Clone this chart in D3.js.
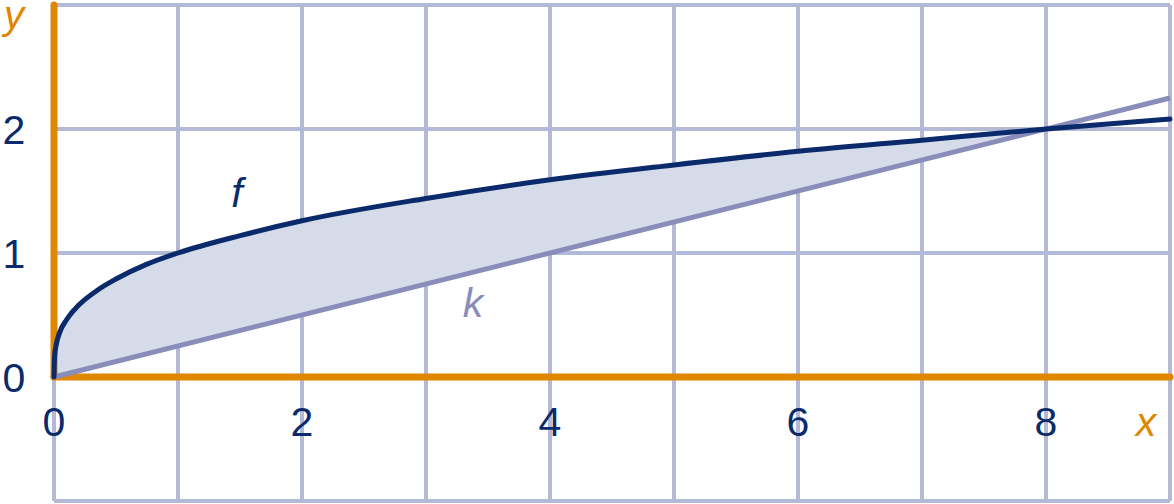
<!DOCTYPE html>
<html>
<head>
<meta charset="utf-8">
<script src="https://d3js.org/d3.v7.min.js"></script>
<style>
  body { margin: 0; background: #fff; }
  svg text { font-family: "Liberation Sans", Arial, sans-serif; }
</style>
</head>
<body>
<svg width="1174" height="504"></svg>
<script>
// values
var fX = [0, 0.005, 0.02, 0.05, 0.1, 0.2, 0.35, 0.5, 0.75, 1, 1.5, 2, 3, 4, 5, 6, 7, 8, 9];
var fY = [0, 0.17, 0.27, 0.37, 0.46, 0.58, 0.70, 0.79, 0.91, 1, 1.14, 1.26, 1.44, 1.59, 1.71, 1.82, 1.91, 2, 2.08];
var kX = [0, 9];
var kY = [0, 2.25];
var xTicks = [0, 2, 4, 6, 8];
var yTicks = [0, 1, 2];
var xGrid = [0, 1, 2, 3, 4, 5, 6, 7, 8, 9];
var yGrid = [-1, 0, 1, 2, 3];

var svg = d3.select("svg");
var x = d3.scaleLinear().domain([0, 9]).range([54, 1170]);
var y = d3.scaleLinear().domain([-1, 3]).range([501, 5]);

var gridColor = "#b4b9d6", orange = "#e08700", navy = "#0b2a6c", lilac = "#8a8db9";

// grid
svg.append("g").selectAll("line.v").data(xGrid).enter().append("line")
    .attr("x1", function(d) { return x(d); })
    .attr("x2", function(d) { return x(d); })
    .attr("y1", y(3)).attr("y2", y(-1))
    .attr("stroke", gridColor).attr("stroke-width", 4);
svg.append("g").selectAll("line.h").data(yGrid).enter().append("line")
    .attr("x1", x(0)).attr("x2", x(9))
    .attr("y1", function(d) { return y(d); })
    .attr("y2", function(d) { return y(d); })
    .attr("stroke", gridColor).attr("stroke-width", 4);

// shaded region between f and k (f up to x=8, closed back along k)
var fPts = fX.map(function(d, i) { return [d, fY[i]]; });
var areaPts = fPts.filter(function(p) { return p[0] <= 8; });
var line = d3.line()
    .x(function(p) { return x(p[0]); })
    .y(function(p) { return y(p[1]); });
svg.append("path")
    .attr("d", line.curve(d3.curveMonotoneX)(areaPts) + "Z")
    .attr("fill", "#d5dbe9");

// axes
svg.append("line")
    .attr("x1", x(0)).attr("x2", x(9))
    .attr("y1", y(0)).attr("y2", y(0))
    .attr("stroke", orange).attr("stroke-width", 7).attr("stroke-linecap", "round");
svg.append("line")
    .attr("x1", x(0)).attr("x2", x(0))
    .attr("y1", y(0)).attr("y2", y(3))
    .attr("stroke", orange).attr("stroke-width", 7).attr("stroke-linecap", "round");

// k
var kPts = kX.map(function(d, i) { return [d, kY[i]]; });
svg.append("path")
    .attr("d", d3.line().x(function(p) { return x(p[0]); }).y(function(p) { return y(p[1]); })(kPts))
    .attr("fill", "none").attr("stroke", lilac).attr("stroke-width", 5);

// f
svg.append("path")
    .attr("d", d3.line().x(function(p) { return x(p[0]); }).y(function(p) { return y(p[1]); })
        .curve(d3.curveMonotoneX)(fPts))
    .attr("fill", "none").attr("stroke", navy).attr("stroke-width", 5)
    .attr("stroke-linecap", "round");

// tick labels
svg.append("g").selectAll("text").data(xTicks).enter().append("text")
    .attr("x", function(d) { return x(d); })
    .attr("y", 436)
    .attr("text-anchor", "middle")
    .attr("font-size", 41)
    .attr("fill", navy)
    .text(function(d) { return d; });
svg.append("g").selectAll("text").data(yTicks).enter().append("text")
    .attr("x", 14)
    .attr("y", function(d) { return y(d) + 15; })
    .attr("text-anchor", "middle")
    .attr("font-size", 41)
    .attr("fill", navy)
    .text(function(d) { return d; });

// axis names and curve labels
svg.append("text").attr("x", 14).attr("y", 29).attr("text-anchor", "middle")
    .attr("font-size", 40).attr("font-style", "italic").attr("fill", orange).text("y");
svg.append("text").attr("x", 1146).attr("y", 436).attr("text-anchor", "middle")
    .attr("font-size", 41).attr("font-style", "italic").attr("fill", orange).text("x");
svg.append("text").attr("x", 237).attr("y", 207).attr("text-anchor", "middle")
    .attr("font-size", 41).attr("font-style", "italic").attr("fill", navy).text("f");
svg.append("text").attr("x", 473).attr("y", 317).attr("text-anchor", "middle")
    .attr("font-size", 41).attr("font-style", "italic").attr("fill", lilac).text("k");
</script>
</body>
</html>
